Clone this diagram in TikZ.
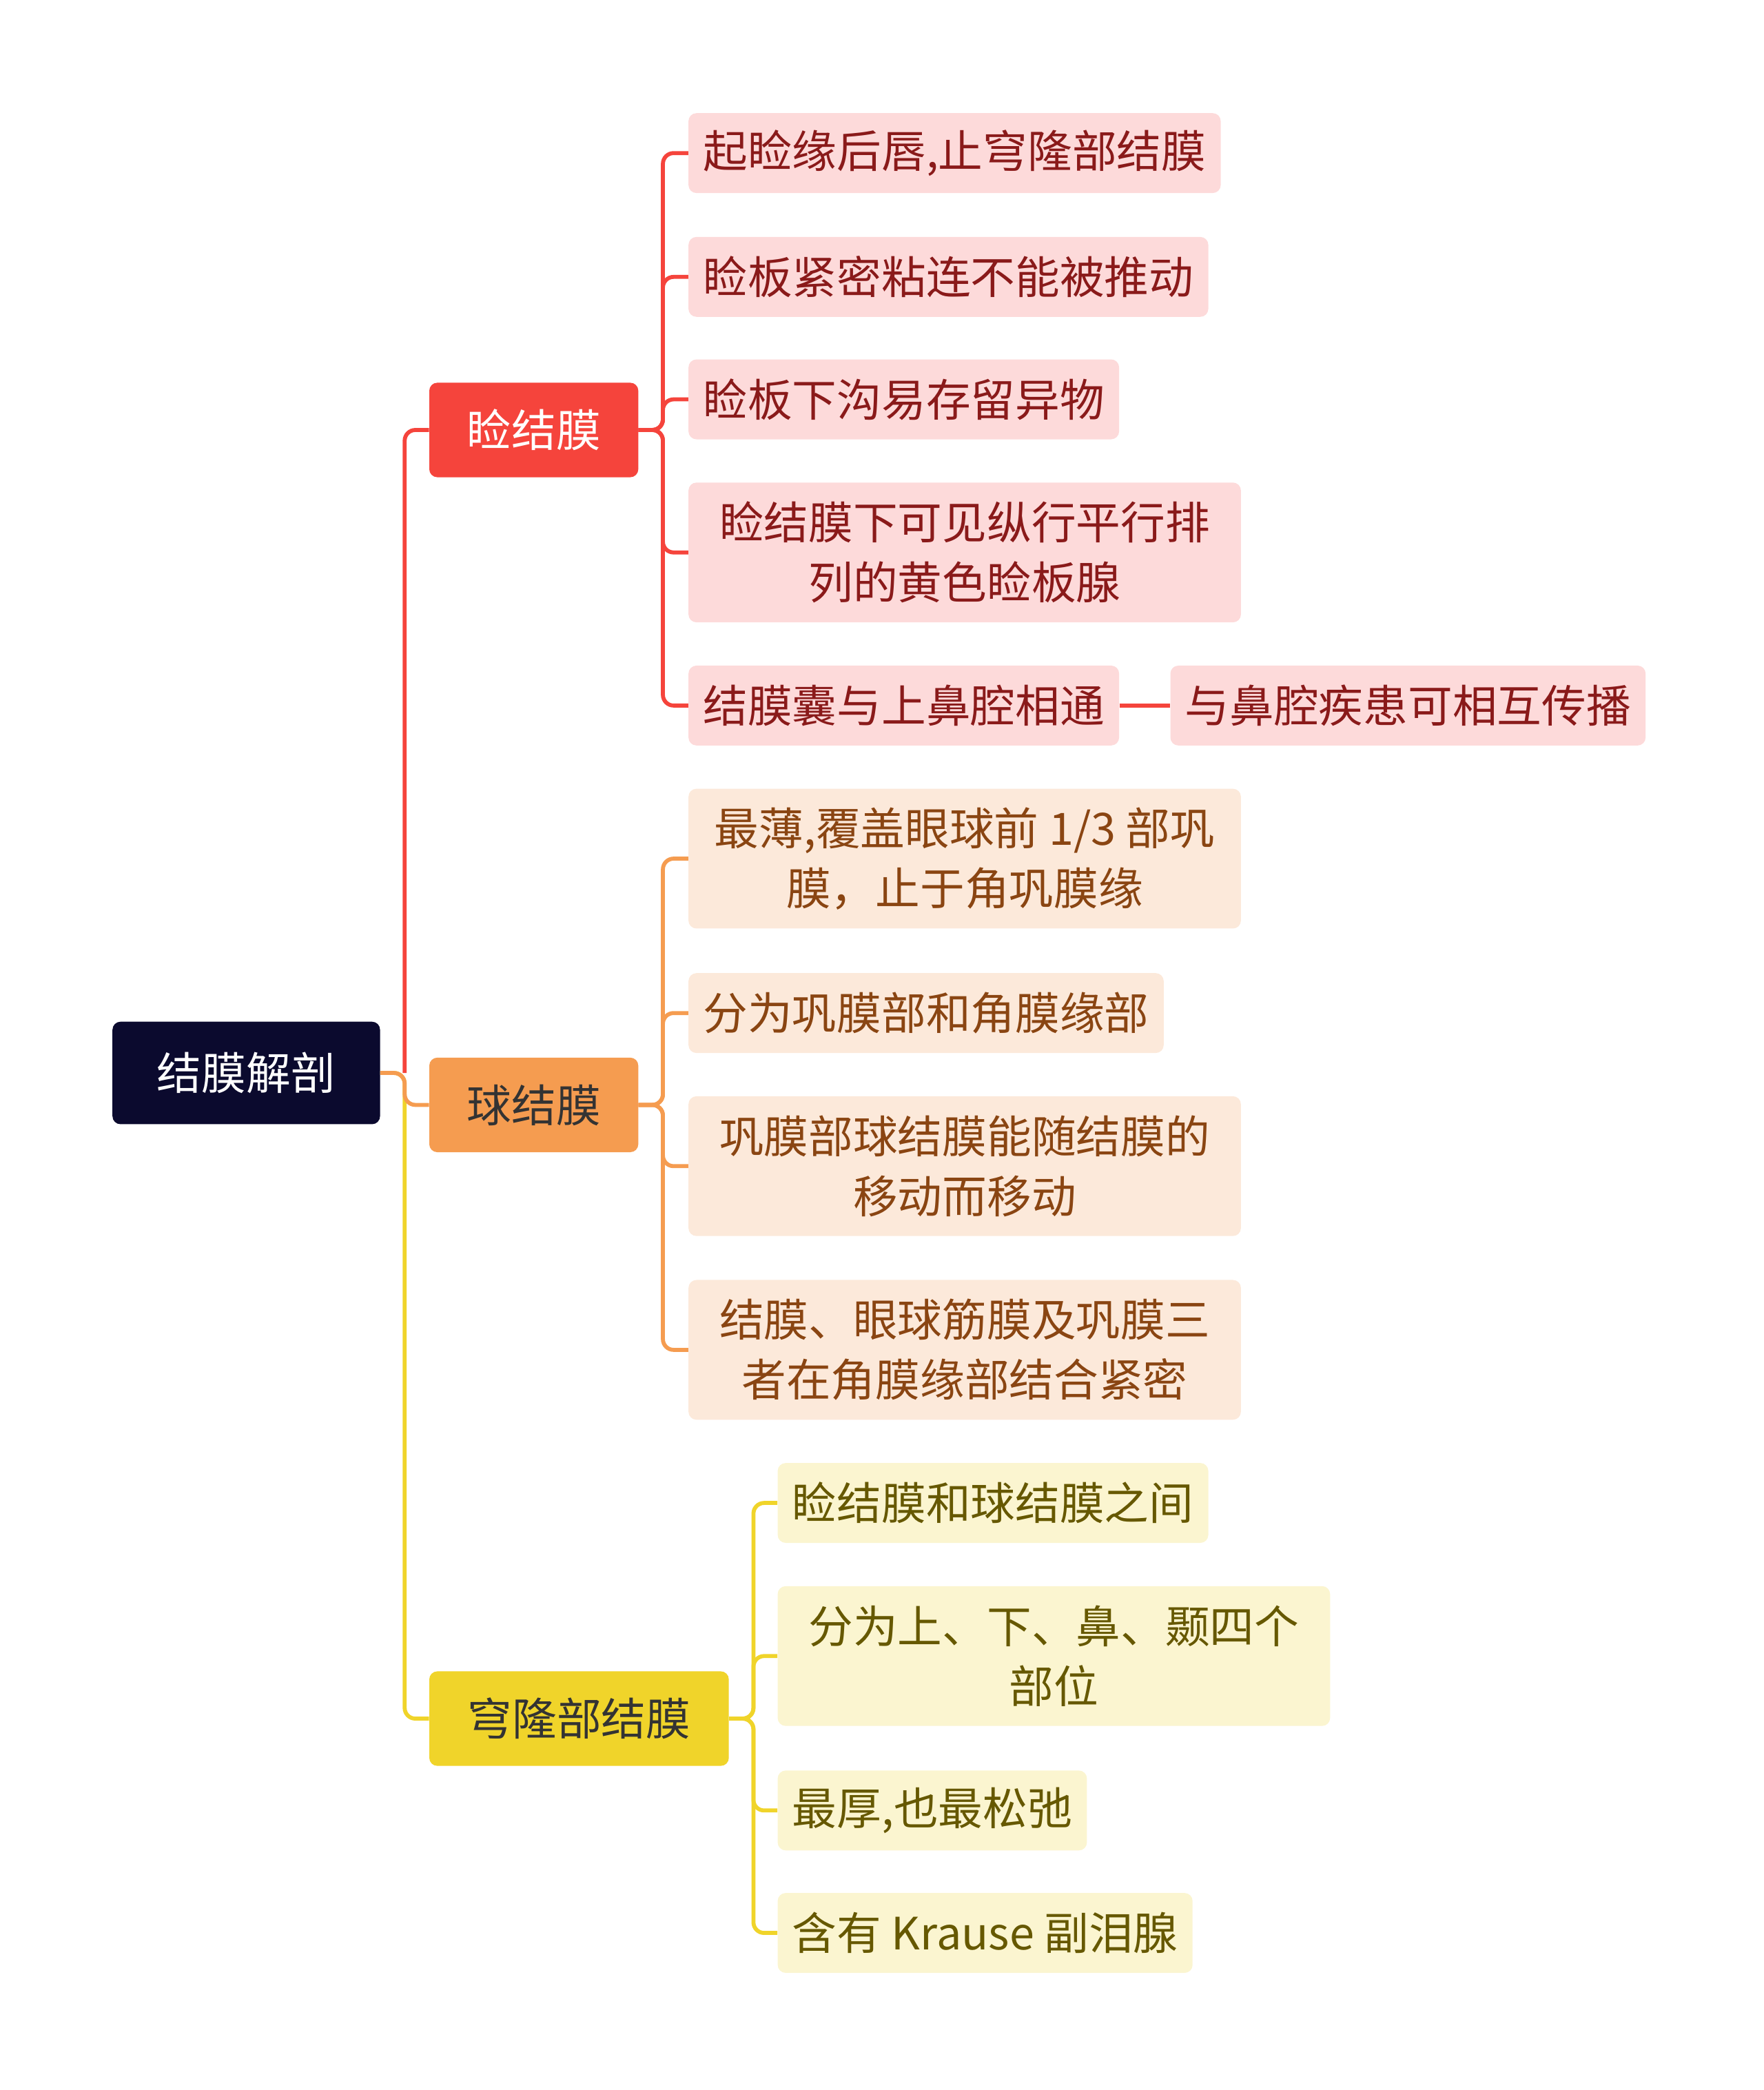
\documentclass[tikz,border=0pt]{standalone}
\usepackage{fontspec}
\setmainfont{Noto Sans CJK SC}
\usetikzlibrary{positioning}
\definecolor{rootc}{HTML}{0B0A2E}
\definecolor{redc}{HTML}{F5443C}
\definecolor{redf}{HTML}{FDDADA}
\definecolor{redt}{HTML}{8A1A1A}
\definecolor{orc}{HTML}{F59C50}
\definecolor{orf}{HTML}{FCE9DA}
\definecolor{ort}{HTML}{8A4512}
\definecolor{yec}{HTML}{F0D42A}
\definecolor{yef}{HTML}{FBF5D0}
\definecolor{yet}{HTML}{665800}
\begin{document}
\begin{tikzpicture}
  [x=1pt,y=-1pt,
   box/.style={rounded corners=6pt,inner xsep=11pt,minimum height=60pt,
     align=center,font=\fontsize{33.5}{45}\selectfont},
   topic/.style={box,minimum height=71pt,inner xsep=0pt},
   redleaf/.style={box,fill=redf,text=redt,anchor=west},
   orleaf/.style={box,fill=orf,text=ort,anchor=west},
   yeleaf/.style={box,fill=yef,text=yet,anchor=west},
   twoline/.style={minimum width=415pt,minimum height=105pt},
   link/.style={line width=3pt,rounded corners=8pt}]
\useasboundingbox (0,0) rectangle (1325,1570);

\node [topic,fill=rootc,text=white,minimum width=201pt,minimum height=77pt] (root) at (185,806) {结膜解剖};
\node [topic,fill=redc,text=white,minimum width=157pt] (lid) at (401,323) {睑结膜};
\node [topic,fill=orc,text=black!80,minimum width=157pt] (ball) at (401,830) {球结膜};
\node [topic,fill=yec,text=black!80,minimum width=225pt] (fornix) at (435,1291) {穹隆部结膜};

% 睑结膜
\node [redleaf] (r1) at (517,115) {起睑缘后唇,止穹隆部结膜};
\node [redleaf] (r2) at (517,208) {睑板紧密粘连不能被推动};
\node [redleaf] (r3) at (517,300) {睑板下沟易存留异物};
\node [redleaf,twoline] (r4) at (517,415) {睑结膜下可见纵行平行排\\列的黄色睑板腺};
\node [redleaf] (r5) at (517,530) {结膜囊与上鼻腔相通};
\node [redleaf] (r5a) at (879,530) {与鼻腔疾患可相互传播};

% 球结膜
\node [orleaf,twoline] (o1) at (517,645) {最薄,覆盖眼球前 1/3 部巩\\膜，止于角巩膜缘};
\node [orleaf] (o2) at (517,761) {分为巩膜部和角膜缘部};
\node [orleaf,twoline] (o3) at (517,876) {巩膜部球结膜能随结膜的\\移动而移动};
\node [orleaf,twoline] (o4) at (517,1014) {结膜、眼球筋膜及巩膜三\\者在角膜缘部结合紧密};

% 穹隆部结膜
\node [yeleaf] (y1) at (584,1129) {睑结膜和球结膜之间};
\node [yeleaf,twoline] (y2) at (584,1244) {分为上、下、鼻、颞四个\\部位};
\node [yeleaf] (y3) at (584,1360) {最厚,也最松弛};
\node [yeleaf] (y4) at (584,1452) {含有 Krause 副泪腺};

\coordinate (rt) at (304,806);
\draw [link,yec] (root.east) -- (rt) |- (fornix.west);
\draw [link,orc] (root.east) -- (rt) |- (ball.west);
\draw [link,redc] (rt) |- (lid.west);

\foreach \n in {r1,r2,r3,r4,r5}
  \draw [link,redc] (lid.east) -- (498,323) |- (\n.west);
\draw [link,redc] (r5.east) -- (r5a.west);
\foreach \n in {o1,o2,o3,o4}
  \draw [link,orc] (ball.east) -- (498,830) |- (\n.west);
\foreach \n in {y1,y2,y3,y4}
  \draw [link,yec] (fornix.east) -- (566,1291) |- (\n.west);
\end{tikzpicture}
\end{document}
